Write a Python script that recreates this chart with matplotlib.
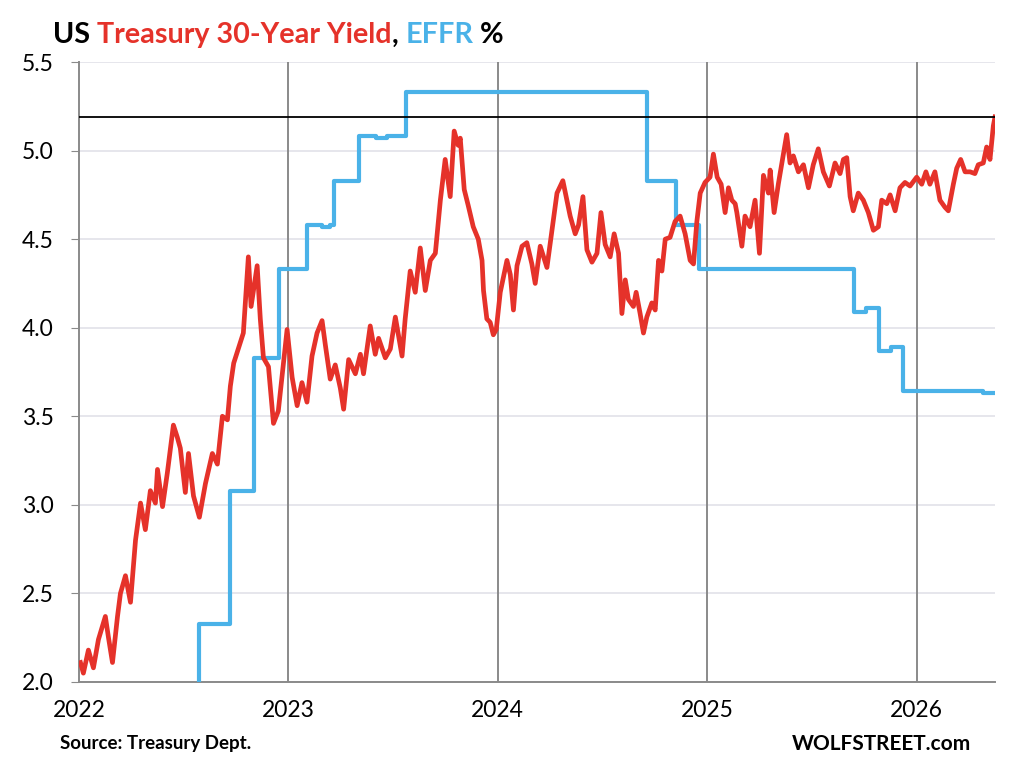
import numpy as np
import matplotlib.pyplot as plt

# US Treasury 30-year yield (decimal year, %)
years = [
    2022.007, 2022.021, 2022.045, 2022.069, 2022.093, 2022.126, 2022.141, 2022.160, 2022.184, 2022.198,
    2022.222, 2022.246, 2022.270, 2022.294, 2022.317, 2022.341, 2022.365, 2022.375, 2022.399, 2022.422,
    2022.451, 2022.470, 2022.484, 2022.508, 2022.523, 2022.547, 2022.575, 2022.604, 2022.637, 2022.661,
    2022.685, 2022.709, 2022.723, 2022.739, 2022.785, 2022.809, 2022.822, 2022.851, 2022.866, 2022.881,
    2022.905, 2022.929, 2022.952, 2022.994, 2023.018, 2023.042, 2023.065, 2023.089, 2023.113, 2023.137,
    2023.161, 2023.177, 2023.200, 2023.224, 2023.248, 2023.264, 2023.288, 2023.320, 2023.344, 2023.359,
    2023.391, 2023.415, 2023.431, 2023.463, 2023.487, 2023.511, 2023.543, 2023.558, 2023.582, 2023.606,
    2023.630, 2023.654, 2023.678, 2023.702, 2023.726, 2023.749, 2023.773, 2023.792, 2023.811, 2023.821,
    2023.840, 2023.859, 2023.883, 2023.907, 2023.925, 2023.932, 2023.948, 2023.964, 2023.979, 2023.993,
    2024.012, 2024.044, 2024.060, 2024.075, 2024.092, 2024.116, 2024.139, 2024.163, 2024.179, 2024.203,
    2024.235, 2024.259, 2024.283, 2024.311, 2024.330, 2024.346, 2024.370, 2024.386, 2024.407, 2024.426,
    2024.450, 2024.474, 2024.493, 2024.513, 2024.537, 2024.556, 2024.577, 2024.593, 2024.609, 2024.624,
    2024.648, 2024.661, 2024.680, 2024.696, 2024.712, 2024.736, 2024.752, 2024.768, 2024.784, 2024.800,
    2024.823, 2024.847, 2024.871, 2024.895, 2024.919, 2024.935, 2024.951, 2024.967, 2024.990, 2025.014,
    2025.030, 2025.048, 2025.067, 2025.086, 2025.102, 2025.118, 2025.134, 2025.142, 2025.166, 2025.181,
    2025.205, 2025.229, 2025.250, 2025.269, 2025.293, 2025.301, 2025.320, 2025.340, 2025.357, 2025.380,
    2025.396, 2025.412, 2025.436, 2025.460, 2025.484, 2025.507, 2025.531, 2025.555, 2025.584, 2025.611,
    2025.635, 2025.651, 2025.667, 2025.683, 2025.698, 2025.722, 2025.746, 2025.770, 2025.794, 2025.818,
    2025.834, 2025.858, 2025.874, 2025.898, 2025.921, 2025.945, 2025.969, 2026.001, 2026.025, 2026.045,
    2026.064, 2026.088, 2026.112, 2026.136, 2026.152, 2026.176, 2026.192, 2026.211, 2026.232, 2026.256,
    2026.279, 2026.295, 2026.319, 2026.335, 2026.351, 2026.367, 2026.375,
]
yield30 = [
    2.11, 2.05, 2.18, 2.08, 2.24, 2.37, 2.25, 2.11, 2.37, 2.50,
    2.60, 2.45, 2.80, 3.01, 2.86, 3.08, 3.01, 3.20, 2.99, 3.18,
    3.45, 3.38, 3.32, 3.07, 3.29, 3.05, 2.93, 3.12, 3.29, 3.23,
    3.50, 3.48, 3.67, 3.80, 3.97, 4.40, 4.12, 4.35, 4.05, 3.83,
    3.78, 3.46, 3.53, 3.99, 3.72, 3.56, 3.69, 3.58, 3.84, 3.97,
    4.04, 3.90, 3.71, 3.79, 3.66, 3.54, 3.82, 3.74, 3.85, 3.74,
    4.01, 3.85, 3.94, 3.83, 3.88, 4.06, 3.84, 4.05, 4.32, 4.20,
    4.45, 4.21, 4.38, 4.42, 4.72, 4.95, 4.74, 5.11, 5.03, 5.07,
    4.78, 4.69, 4.57, 4.50, 4.38, 4.21, 4.05, 4.03, 3.96, 3.99,
    4.20, 4.38, 4.30, 4.10, 4.35, 4.46, 4.48, 4.36, 4.25, 4.46,
    4.34, 4.55, 4.76, 4.83, 4.72, 4.63, 4.53, 4.58, 4.74, 4.44,
    4.37, 4.42, 4.65, 4.47, 4.40, 4.53, 4.42, 4.08, 4.27, 4.16,
    4.12, 4.20, 4.08, 3.97, 4.06, 4.14, 4.10, 4.38, 4.32, 4.50,
    4.51, 4.60, 4.63, 4.53, 4.38, 4.36, 4.60, 4.76, 4.82, 4.85,
    4.98, 4.85, 4.81, 4.65, 4.79, 4.72, 4.70, 4.65, 4.46, 4.63,
    4.57, 4.72, 4.42, 4.86, 4.76, 4.89, 4.65, 4.81, 4.93, 5.09,
    4.93, 4.97, 4.88, 4.92, 4.79, 4.92, 5.01, 4.88, 4.80, 4.93,
    4.87, 4.95, 4.96, 4.74, 4.66, 4.76, 4.72, 4.65, 4.55, 4.57,
    4.72, 4.70, 4.75, 4.66, 4.79, 4.82, 4.80, 4.85, 4.81, 4.88,
    4.81, 4.88, 4.72, 4.68, 4.66, 4.81, 4.90, 4.95, 4.88, 4.88,
    4.87, 4.92, 4.93, 5.02, 4.95, 5.14, 5.19,
]

# Effective federal funds rate, step changes (decimal year, %)
effr_years = [
    2022.000, 2022.208, 2022.340, 2022.458, 2022.571, 2022.723, 2022.834, 2022.953, 2023.089, 2023.160,
    2023.200, 2023.216, 2023.336, 2023.420, 2023.470, 2023.563, 2024.712, 2024.851, 2024.959, 2025.703,
    2025.760, 2025.822, 2025.880, 2025.934, 2026.318, 2026.375,
]
effr = [
    0.08, 0.33, 0.83, 1.58, 2.33, 3.08, 3.83, 4.33, 4.58, 4.57,
    4.58, 4.83, 5.08, 5.07, 5.08, 5.33, 4.83, 4.58, 4.33, 4.09,
    4.11, 3.87, 3.89, 3.64, 3.63, 3.63,
]
latest_level = 5.19

year_ticks = [2022, 2023, 2024, 2025, 2026]
y_ticks = [2.0, 2.5, 3.0, 3.5, 4.0, 4.5, 5.0, 5.5]

RED = "#e5322a"
BLUE = "#4ab2e8"
plt.rcParams['font.family'] = ['Lato', 'DejaVu Sans']

fig = plt.figure(figsize=(10.31, 7.78), dpi=100)
ax = fig.add_axes([0.0766, 0.1234, 0.8885, 0.7969])

for yr in year_ticks[1:]:
    ax.axvline(yr, color="#8a8a8a", lw=1.4, zorder=1)
ax.yaxis.grid(True, color="#e6e6ec", lw=1.4, zorder=0)
ax.set_axisbelow(True)

ax.step(effr_years, effr, where="post", color=BLUE, lw=3, zorder=3)
ax.plot(years, yield30, color=RED, lw=3.4, zorder=4, solid_joinstyle="round")
ax.axhline(latest_level, color="black", lw=1.3, zorder=5)

ax.set_xlim(2022, 2026.375)
ax.set_ylim(2.0, 5.5)
ax.set_xticks(year_ticks)
ax.set_xticklabels([str(y) for y in year_ticks], fontsize=16.5)
ax.set_yticks(y_ticks)
ax.set_yticklabels(["%.1f" % v for v in y_ticks], fontsize=16.5)
ax.tick_params(axis="x", length=0, pad=13)
ax.tick_params(axis="y", length=6, color="#8a8a8a", pad=12)
for s in ["top", "right"]:
    ax.spines[s].set_visible(False)
for s in ["left", "bottom"]:
    ax.spines[s].set_color("#8a8a8a")
    ax.spines[s].set_linewidth(1.4)

# multi-coloured title
pieces = [("US ", "black"), ("Treasury 30-Year Yield", RED), (", ", "black"),
          ("EFFR", BLUE), (" %", "black")]
fig.canvas.draw()
r = fig.canvas.get_renderer()
x = 53 / 1031
for txt, col in pieces:
    t = fig.text(x, 1 - 35 / 778, txt, color=col, fontsize=20.7, fontweight="bold",
                 va="center", ha="left")
    bb = t.get_window_extent(renderer=r)
    x += bb.width / fig.bbox.width

fig.text(60 / 1031, 1 - 744 / 778, "Source: Treasury Dept.", fontsize=13.5,
         fontweight="bold", va="center", ha="left")
fig.text(971 / 1031, 1 - 744 / 778, "WOLFSTREET.com", fontsize=15,
         fontweight="bold", va="center", ha="right")

fig.savefig("out.png", dpi=100)
